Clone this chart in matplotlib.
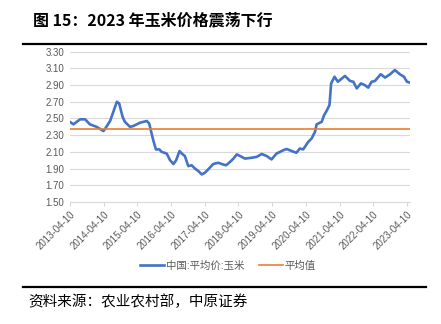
import matplotlib
matplotlib.use('Agg')
import matplotlib.pyplot as plt
from matplotlib.lines import Line2D

plt.rcParams['font.family'] = ['Liberation Sans', 'Noto Sans CJK SC', 'DejaVu Sans']

# years since 2013-04-10 and price (yuan/kg)
t_years = [0.0, 0.1, 0.3, 0.45, 0.59, 0.79, 0.99, 1.03, 1.19, 1.39, 1.46, 1.56, 1.63, 1.78,
           1.88, 2.08, 2.28, 2.35, 2.47, 2.55, 2.65, 2.72, 2.87, 2.97, 3.07, 3.15, 3.25, 3.32,
           3.41, 3.51, 3.61, 3.71, 3.81, 3.91, 4.0, 4.1, 4.25, 4.4, 4.5, 4.63, 4.75, 4.85,
           4.95, 5.05, 5.19, 5.39, 5.54, 5.69, 5.84, 5.98, 6.13, 6.33, 6.43, 6.58, 6.72,
           6.82, 6.92, 7.07, 7.17, 7.27, 7.32, 7.47, 7.54, 7.6, 7.7, 7.75, 7.85, 7.95, 8.16,
           8.31, 8.41, 8.51, 8.63, 8.75, 8.85, 8.95, 9.05, 9.22, 9.35, 9.5, 9.64, 9.79,
           9.91, 10.0, 10.09]
price = [2.46, 2.43, 2.49, 2.49, 2.43, 2.40, 2.35, 2.37, 2.47, 2.70, 2.68, 2.52, 2.46, 2.40,
         2.41, 2.45, 2.47, 2.44, 2.24, 2.13, 2.13, 2.10, 2.08, 2.00, 1.955, 2.00, 2.11, 2.08,
         2.05, 1.93, 1.94, 1.90, 1.87, 1.83, 1.85, 1.89, 1.955, 1.97, 1.955, 1.94, 1.98, 2.02,
         2.07, 2.05, 2.02, 2.03, 2.04, 2.075, 2.05, 2.01, 2.08, 2.12, 2.135, 2.11, 2.09,
         2.14, 2.13, 2.22, 2.26, 2.34, 2.43, 2.46, 2.54, 2.58, 2.66, 2.92, 3.00, 2.94, 3.01,
         2.95, 2.94, 2.86, 2.92, 2.90, 2.87, 2.94, 2.95, 3.03, 2.99, 3.03, 3.08, 3.03,
         3.00, 2.94, 2.93]
avg_price = 2.38
tick_labels = ['2013-04-10', '2014-04-10', '2015-04-10', '2016-04-10', '2017-04-10',
               '2018-04-10', '2019-04-10', '2020-04-10', '2021-04-10', '2022-04-10',
               '2023-04-10']
y_ticks = [1.50, 1.70, 1.90, 2.10, 2.30, 2.50, 2.70, 2.90, 3.10, 3.30]

blue = '#4472C4'
orange = '#ED7D31'
grey = '#595959'

fig = plt.figure(figsize=(4.41, 3.24), dpi=100)
ax = fig.add_axes([70 / 441, 1 - 202 / 324, 340 / 441, 150.3 / 324])

ax.plot(t_years, price, color=blue, lw=1.9, solid_capstyle='round')
ax.axhline(avg_price, color=orange, lw=1.2)

ax.set_xlim(0, 10.09)
ax.set_ylim(1.5, 3.3)
ax.set_yticks(y_ticks)
ax.set_yticklabels(['%.2f' % v for v in y_ticks], fontsize=7, color=grey)
ax.set_xticks(range(len(tick_labels)))
ax.set_xticklabels(tick_labels, rotation=45, ha='right', rotation_mode='anchor',
                   fontsize=7, color=grey)
ax.grid(axis='y', color='#D9D9D9', lw=0.8)
ax.set_axisbelow(True)
for s in ['top', 'right', 'left']:
    ax.spines[s].set_visible(False)
ax.spines['bottom'].set_color('#D9D9D9')
ax.tick_params(axis='y', length=0, pad=4)
ax.tick_params(axis='x', length=3, color='#D9D9D9', pad=2)

handles = [Line2D([], [], color=blue, lw=1.9), Line2D([], [], color=orange, lw=1.2)]
leg = fig.legend(handles, ['中国:平均价:玉米', '平均值'], loc='center',
                 bbox_to_anchor=(228 / 441, 1 - 266 / 324), ncol=2, frameon=False,
                 fontsize=7.5, handlelength=2.3, handletextpad=0.2, columnspacing=1.4)
for txt in leg.get_texts():
    txt.set_color(grey)

fig.text(33 / 441, 1 - 20 / 324, '图 15：2023 年玉米价格震荡下行', fontsize=11.5,
         fontweight='bold', va='center', ha='left', family=['Noto Sans CJK SC'])
fig.add_artist(Line2D([23 / 441, 426 / 441], [1 - 43.5 / 324] * 2, color='black', lw=1.6))
fig.add_artist(Line2D([23 / 441, 426 / 441], [1 - 287 / 324] * 2, color='black', lw=1.6))
fig.text(28 / 441, 1 - 302 / 324, '资料来源：农业农村部，中原证券', fontsize=10.5,
         va='center', ha='left', family=['Noto Sans CJK SC'])

fig.savefig('out.png', dpi=100)
